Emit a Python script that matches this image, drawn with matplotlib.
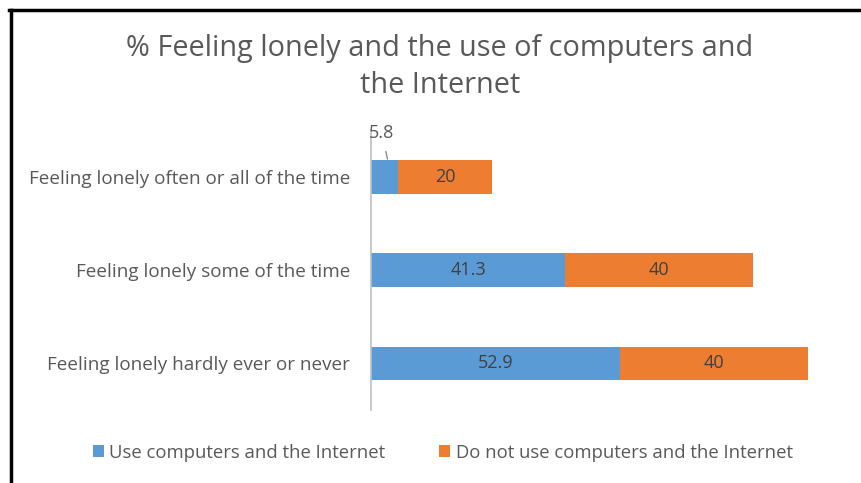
import matplotlib
matplotlib.use('Agg')
import matplotlib.pyplot as plt
from matplotlib.lines import Line2D
from matplotlib.patches import Patch

# Chart data
categories = ['Feeling lonely often or all of the time',
              'Feeling lonely some of the time',
              'Feeling lonely hardly ever or never']
use_internet = [5.8, 41.3, 52.9]
no_internet = [20, 40, 40]
series_names = ['Use computers and the Internet',
                'Do not use computers and the Internet']

blue = '#5B9BD5'
orange = '#ED7D31'
text_col = '#595959'

plt.rcParams['font.family'] = ['Open Sans', 'DejaVu Sans']

fig = plt.figure(figsize=(8.61, 4.83), dpi=100)
ax = fig.add_axes([0.4309, 0.151, 0.5459, 0.5797])

y = list(range(len(categories)))
b1 = ax.barh(y, use_internet, height=0.36, color=blue)
b2 = ax.barh(y, no_internet, left=use_internet, height=0.36, color=orange)

ax.set_xlim(0, 100)
ax.set_ylim(len(categories) - 0.5, -0.5)
ax.set_xticks([])
ax.set_yticks(y)
ax.set_yticklabels(categories, fontsize=13.6, color=text_col)
ax.tick_params(axis='y', length=0, pad=15)
for s in ['top', 'right', 'bottom']:
    ax.spines[s].set_visible(False)
ax.spines['left'].set_color('#BFBFBF')
ax.spines['left'].set_linewidth(1.2)

# data labels
for i in range(len(categories)):
    u = use_internet[i]
    n = no_internet[i]
    if u < 10:
        ax.annotate(f'{u:g}', xy=(u / 2 + 0.6, i - 0.19), xytext=(u / 2 - 0.6, i - 0.47),
                    ha='center', va='center', fontsize=13, color=text_col,
                    arrowprops=dict(arrowstyle='-', color='#8C8C8C', lw=1.0,
                                    shrinkA=5, shrinkB=0))
    else:
        ax.text(u / 2, i, f'{u:g}', ha='center', va='center', fontsize=13, color='#404040')
    ax.text(u + n / 2, i, f'{n:g}', ha='center', va='center', fontsize=13, color='#404040')

fig.text(0.511, 0.862, '% Feeling lonely and the use of computers and\nthe Internet',
         ha='center', va='center', fontsize=20.8, color=text_col, linespacing=1.36)

handles = [Patch(facecolor=blue), Patch(facecolor=orange)]
fig.legend(handles, series_names, loc='center', bbox_to_anchor=(0.514, 0.063),
           ncol=2, frameon=False, fontsize=13.3, labelcolor=text_col,
           handlelength=0.6, handleheight=0.6, handletextpad=0.3, columnspacing=2.9)

# outer frame
fig.add_artist(Line2D([0.011, 1.0], [0.979, 0.979], color='black', lw=2.5,
                      transform=fig.transFigure))
fig.add_artist(Line2D([0.013, 0.013], [0.0, 0.98], color='black', lw=2.5,
                      transform=fig.transFigure))

fig.savefig('out.png', dpi=100)
